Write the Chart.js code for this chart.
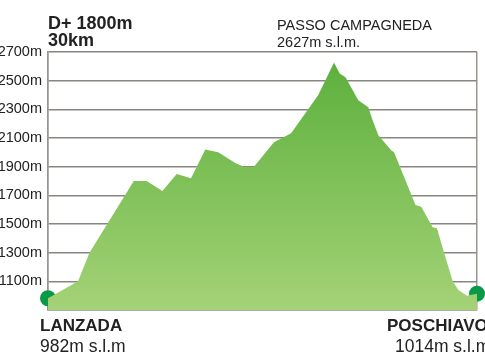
<!DOCTYPE html>
<html>
<head>
<meta charset="utf-8">
<script src="https://cdn.jsdelivr.net/npm/chart.js@4/dist/chart.umd.min.js"></script>
<style>
  html, body { margin: 0; padding: 0; background: #fff; }
  #wrap { width: 485px; height: 360px; position: relative; }
</style>
</head>
<body>
<div id="wrap"><canvas id="profileChart"></canvas></div>
<script>
// distanza (km) e quota (m)
const distanceKm = [0, 2.1, 2.9, 6.0, 6.9, 8.0, 9.0, 10.0, 11.0, 11.9, 13.1, 13.7, 14.4, 15.8, 17.0, 18.9, 20.0, 20.4, 20.8, 21.7, 22.4, 22.7, 23.1, 24.0, 24.2, 25.7, 26.1, 26.9, 27.2, 27.7, 28.3, 28.7, 29.3, 30];
const elevationM = [982, 1100, 1300, 1800, 1800, 1730, 1848, 1820, 2020, 2000, 1925, 1900, 1900, 2070, 2133, 2400, 2627, 2550, 2523, 2363, 2315, 2224, 2120, 2015, 2000, 1632, 1620, 1478, 1470, 1300, 1100, 1040, 1000, 1014];
const yTicks = [1100, 1300, 1500, 1700, 1900, 2100, 2300, 2500, 2700];

const headerLines = ["D+ 1800m", "30km"];
const peakLines = ["PASSO CAMPAGNEDA", "2627m s.l.m."];
const startLines = ["LANZADA", "982m s.l.m"];
const endLines = ["POSCHIAVO", "1014m s.l.m"];

const FONT = "'Liberation Sans', Arial, Helvetica, sans-serif";

// testi sopra e sotto il grafico
const labelsPlugin = {
  id: "labels",
  afterDraw(chart) {
    const ctx = chart.ctx;
    ctx.save();
    ctx.fillStyle = "#222";
    ctx.textBaseline = "alphabetic";
    ctx.textAlign = "left";
    ctx.font = "bold 18px " + FONT;
    ctx.fillText(headerLines[0], 48, 29);
    ctx.fillText(headerLines[1], 48, 46);
    ctx.font = "14.5px " + FONT;
    ctx.fillText(peakLines[0], 277, 30);
    ctx.fillText(peakLines[1], 277, 47);
    ctx.font = "bold 17px " + FONT;
    ctx.fillText(startLines[0], 40, 331);
    ctx.fillText(endLines[0], 387, 331);
    ctx.font = "17.5px " + FONT;
    ctx.fillText(startLines[1], 40, 352);
    ctx.fillText(endLines[1], 395, 352);
    ctx.restore();
  }
};

const ctx = document.getElementById("profileChart").getContext("2d");
new Chart(ctx, {
  type: "line",
  data: {
    datasets: [
      {
        data: distanceKm.map((d, i) => ({ x: d, y: elevationM[i] })),
        fill: "start",
        borderWidth: 0,
        pointRadius: 0,
        tension: 0,
        backgroundColor: (c) => {
          const area = c.chart.chartArea;
          if (!area) return "#7cbf55";
          const g = c.chart.ctx.createLinearGradient(0, area.top, 0, area.bottom);
          g.addColorStop(0, "#5aaf3b");
          g.addColorStop(1, "#a4d276");
          return g;
        },
      },
      {
        // punti di partenza e arrivo
        data: [
          { x: distanceKm[0], y: elevationM[0] },
          { x: distanceKm[distanceKm.length - 1], y: elevationM[elevationM.length - 1] },
        ],
        showLine: false,
        pointRadius: 8,
        pointBackgroundColor: "#0a9a47",
        pointBorderWidth: 0,
        clip: false,
      },
    ],
  },
  options: {
    responsive: true,
    maintainAspectRatio: false,
    animation: false,
    layout: { padding: { top: 52, right: 5, bottom: 50, left: 0 } },
    plugins: { legend: { display: false }, tooltip: { enabled: false } },
    scales: {
      x: {
        type: "linear",
        min: 0,
        max: 30,
        z: 1,
        afterBuildTicks: (axis) => { axis.ticks = [{ value: 0 }, { value: 30 }]; },
        ticks: { display: false },
        grid: { color: "#9a9590", lineWidth: 1.5, drawTicks: false },
        border: { color: "#9a9590", width: 1.5 },
      },
      y: {
        min: 900,
        max: 2700,
        z: 1,
        afterBuildTicks: (axis) => { axis.ticks = [900].concat(yTicks).map((v) => ({ value: v })); },
        afterFit: (axis) => { axis.width = 48; },
        ticks: {
          padding: 6,
          color: "#222",
          font: { family: FONT, size: 14.5 },
          callback: (v) => (yTicks.includes(v) ? v + "m" : ""),
        },
        grid: { color: "#8a8580", lineWidth: 1.5, drawTicks: false },
        border: { color: "#9a9590", width: 1.5 },
      },
    },
  },
  plugins: [labelsPlugin],
});
</script>
</body>
</html>
